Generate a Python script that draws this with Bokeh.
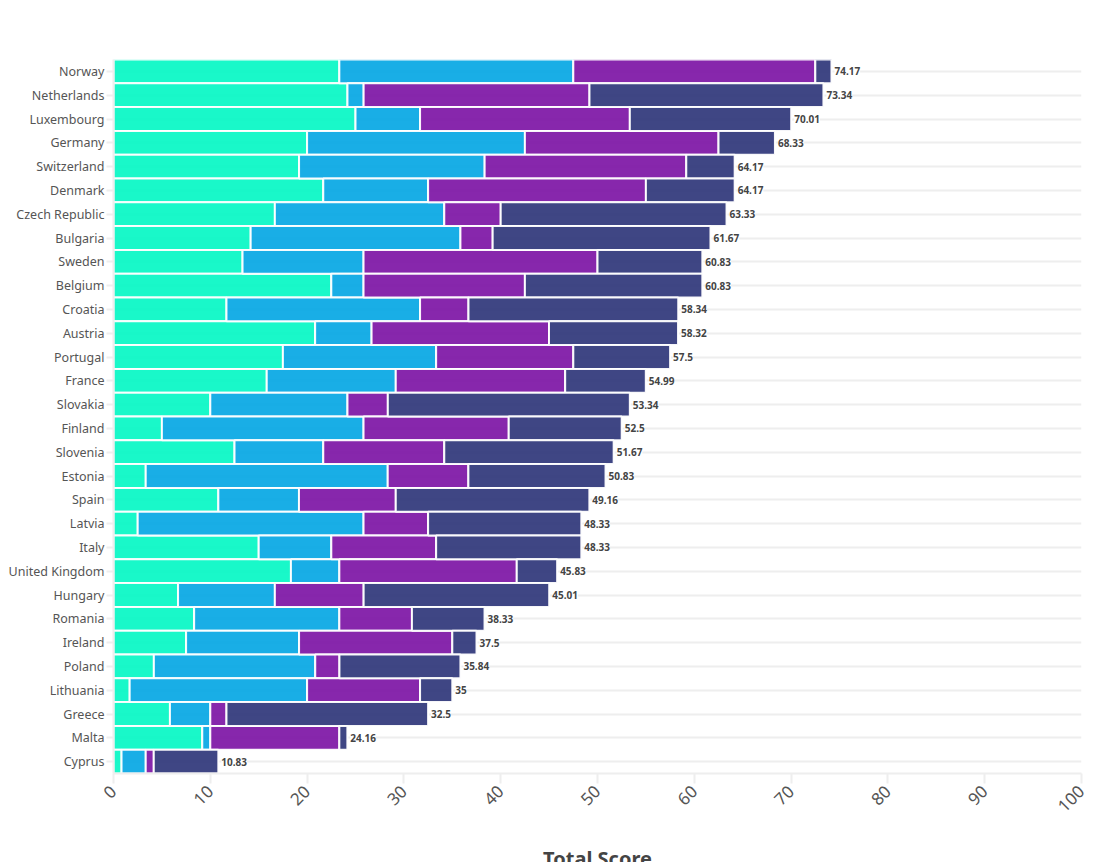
from bokeh.plotting import figure
from bokeh.models import ColumnDataSource, FactorRange, Range1d, FixedTicker, Label, BoxAnnotation
from bokeh.embed import file_html
from bokeh.resources import INLINE
from bokeh.core.properties import value
import math

countries = ["Norway","Netherlands","Luxembourg","Germany","Switzerland","Denmark","Czech Republic","Bulgaria","Sweden","Belgium","Croatia","Austria","Portugal","France","Slovakia","Finland","Slovenia","Estonia","Spain","Latvia","Italy","United Kingdom","Hungary","Romania","Ireland","Poland","Lithuania","Greece","Malta","Cyprus"]
points = [23.33,24.17,25,20,19.17,21.67,16.67,14.17,13.33,22.5,11.67,20.83,17.5,15.83,10,5,12.5,3.33,10.83,2.5,15,18.33,6.67,8.33,7.5,4.17,1.67,5.83,9.17,0.83]
power = [24.17,1.67,6.67,22.5,19.17,10.83,17.5,21.67,12.5,3.33,20,5.83,15.83,13.33,14.17,20.83,9.17,25,8.33,23.33,7.5,5,10,15,11.67,16.67,18.33,4.17,0.83,2.5]
share = [25,23.33,21.67,20,20.83,22.5,5.83,3.33,24.17,16.67,5,18.33,14.17,17.5,4.17,15,12.5,8.33,10,6.67,10.83,18.33,9.17,7.5,15.83,2.5,11.67,1.67,13.33,0.83]
fleet = [1.67,24.17,16.67,5.83,5,9.17,23.33,22.5,10.83,18.33,21.67,13.33,10,8.33,25,11.67,17.5,14.17,20,15.83,15,4.17,19.17,7.5,2.5,12.5,3.33,20.83,0.83,6.67]
total_labels = ["74.17","73.34","70.01","68.33","64.17","64.17","63.33","61.67","60.83","60.83","58.34","58.32","57.5","54.99","53.34","52.5","51.67","50.83","49.16","48.33","48.33","45.83","45.01","38.33","37.5","35.84","35","32.5","24.16","10.83"]
series = ["Charging Points per Road Length","Avg. Charger Power","EV Market Share 2022","EV Fleet per Charging Point"]
colors = ["#00F7C3","#00A5E3","#7A0FA3","#2A3277"]
x_ticks = [0,10,20,30,40,50,60,70,80,90,100]
FONT = "Noto Sans"
GREY = "#eeeeee"

W, H = 1110, 860
LEFT, TOP = 113, 59
p = figure(width=W, height=H, output_backend="svg", toolbar_location=None,
           y_range=FactorRange(factors=countries[::-1]), x_range=Range1d(0, 100),
           frame_width=968, frame_height=714,
           min_border_left=LEFT, min_border_top=TOP, min_border_right=W-LEFT-968, min_border_bottom=H-TOP-714,
           outline_line_color=None, background_fill_color="white", border_fill_color="white")

source = ColumnDataSource(dict(country=countries, **{series[0]: points, series[1]: power, series[2]: share, series[3]: fleet}))
p.hbar_stack(series, y="country", height=1.0, color=colors, source=source,
             fill_alpha=0.9, line_color="white", line_width=2, line_alpha=0.95)

totals = [a+b+c+d for a, b, c, d in zip(points, power, share, fleet)]
lab = ColumnDataSource(dict(x=totals, y=countries, t=total_labels))
p.text(x="x", y="y", text="t", source=lab, x_offset=3, text_baseline="middle",
       text_font=value(FONT), text_font_size="10px", text_font_style="bold", text_color="#444444",
       background_fill_color="white")

p.xgrid.visible = False
p.ygrid.grid_line_color = GREY
p.ygrid.grid_line_width = 2

p.xaxis.ticker = FixedTicker(ticks=x_ticks)
p.xaxis.major_label_orientation = math.pi/4
p.xaxis.major_label_text_font = FONT
p.xaxis.major_label_text_font_size = "17px"
p.xaxis.major_label_text_color = "#555555"
p.xaxis.major_tick_line_color = GREY
p.xaxis.major_tick_line_width = 2
p.xaxis.major_tick_in = 0
p.xaxis.major_tick_out = 10
p.xaxis.minor_tick_line_color = None
p.xaxis.axis_line_color = GREY
p.xaxis.axis_line_width = 2
p.xaxis.axis_label = "Total Score"
p.xaxis.axis_label_text_font = FONT
p.xaxis.axis_label_text_font_size = "20px"
p.xaxis.axis_label_text_font_style = "bold"
p.xaxis.axis_label_text_color = "#444444"
p.xaxis.axis_label_standoff = 24

p.yaxis.major_label_text_font = FONT
p.yaxis.major_label_text_font_size = "12.5px"
p.yaxis.major_label_text_color = "#555555"
p.yaxis.major_tick_line_color = GREY
p.yaxis.major_tick_line_width = 2
p.yaxis.major_tick_in = 0
p.yaxis.major_tick_out = 7
p.yaxis.axis_line_color = GREY
p.yaxis.axis_line_width = 2
p.yaxis.major_label_standoff = 2

# legend row (canvas pixels, rounded swatches)
swatch_x = [8, 313, 504, 714]
text_x = [26.5, 332, 522.5, 732]
for sx, tx, name, col in zip(swatch_x, text_x, series, colors):
    p.add_layout(BoxAnnotation(left=sx, right=sx+14, top=13, bottom=33,
                               left_units="canvas", right_units="canvas", top_units="canvas", bottom_units="canvas",
                               fill_color=col, fill_alpha=1, line_color=None, border_radius=4, level="annotation"))
    p.add_layout(Label(x=tx, y=22, x_units="canvas", y_units="canvas", text=name, text_font=FONT,
                       text_font_size="18px", text_color="#444444", text_baseline="middle", level="annotation"))

# browser-extension badge that sits over the legend in the reference
def box(l, r, t, b, **kw):
    p.add_layout(BoxAnnotation(left=l, right=r, top=t, bottom=b, left_units="canvas", right_units="canvas",
                               top_units="canvas", bottom_units="canvas", level="overlay", **kw))
box(752, 787, -3, 28, fill_color="white", fill_alpha=1, line_color="#dddddd", line_width=1, border_radius=4)
box(770, 783, 2, 23, fill_color="#d9d9d9", fill_alpha=1, line_color=None)
box(757, 772, 0, 21, fill_color="#4285F4", fill_alpha=1, line_color=None, border_radius=1)
p.add_layout(Label(x=760, y=10, x_units="canvas", y_units="canvas", text="G", text_color="white",
                   text_font="Roboto", text_font_size="11px", text_font_style="bold", text_baseline="middle", level="overlay"))
p.add_layout(Label(x=772, y=13, x_units="canvas", y_units="canvas", text="文", text_color="#666666",
                   text_font="Noto Sans CJK SC", text_font_size="11px", text_baseline="middle", level="overlay"))

open("out.html", "w").write(file_html(p, INLINE))
